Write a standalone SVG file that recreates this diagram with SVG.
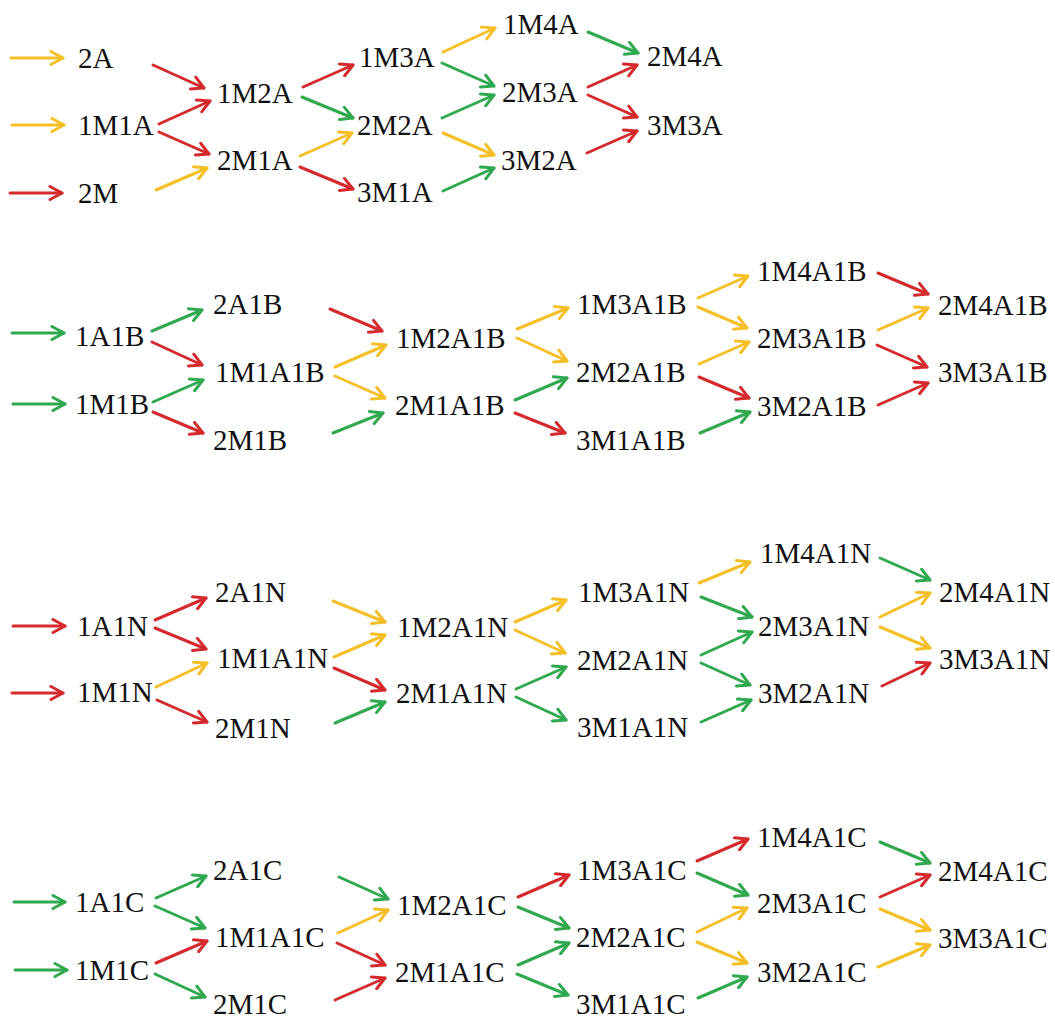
<svg xmlns="http://www.w3.org/2000/svg" width="1055" height="1019" viewBox="0 0 1055 1019">
<style>
.r{stroke:#d42a2e}.y{stroke:#f4bf27}.g{stroke:#2fa84f}
line{stroke-width:3;stroke-linecap:round;fill:none}
line.r{marker-end:url(#mr)}line.y{marker-end:url(#my)}line.g{marker-end:url(#mg)}
</style>
<defs>
<marker id="mr" markerUnits="userSpaceOnUse" markerWidth="16" markerHeight="16" viewBox="0 0 16 16" refX="14" refY="8" orient="auto"><path d="M2,1.5 L14,8 L2,14.5" fill="none" stroke="#d42a2e" stroke-width="3" stroke-linecap="round" stroke-linejoin="round"/></marker>
<marker id="my" markerUnits="userSpaceOnUse" markerWidth="16" markerHeight="16" viewBox="0 0 16 16" refX="14" refY="8" orient="auto"><path d="M2,1.5 L14,8 L2,14.5" fill="none" stroke="#f4bf27" stroke-width="3" stroke-linecap="round" stroke-linejoin="round"/></marker>
<marker id="mg" markerUnits="userSpaceOnUse" markerWidth="16" markerHeight="16" viewBox="0 0 16 16" refX="14" refY="8" orient="auto"><path d="M2,1.5 L14,8 L2,14.5" fill="none" stroke="#2fa84f" stroke-width="3" stroke-linecap="round" stroke-linejoin="round"/></marker>
</defs>
<rect width="1055" height="1019" fill="#fff"/>
<g id="connectors">
<line class="y" x1="11" y1="58" x2="63" y2="58"/>
<line class="y" x1="12" y1="125" x2="64" y2="125"/>
<line class="r" x1="10" y1="193" x2="62" y2="193"/>
<line class="r" x1="153" y1="65" x2="204" y2="88"/>
<line class="r" x1="159" y1="124" x2="210" y2="101"/>
<line class="r" x1="159" y1="132" x2="209" y2="154"/>
<line class="y" x1="156" y1="190" x2="207" y2="168"/>
<line class="r" x1="303" y1="87" x2="353" y2="65"/>
<line class="g" x1="302" y1="97" x2="353" y2="118"/>
<line class="y" x1="300" y1="156" x2="352" y2="133"/>
<line class="r" x1="300" y1="167" x2="353" y2="189"/>
<line class="y" x1="443" y1="52" x2="495" y2="28"/>
<line class="g" x1="442" y1="63" x2="494" y2="86"/>
<line class="g" x1="442" y1="118" x2="494" y2="95"/>
<line class="y" x1="443" y1="133" x2="494" y2="155"/>
<line class="g" x1="443" y1="191" x2="494" y2="168"/>
<line class="g" x1="588" y1="32" x2="638" y2="53"/>
<line class="r" x1="588" y1="87" x2="637" y2="65"/>
<line class="r" x1="588" y1="95" x2="637" y2="117"/>
<line class="r" x1="587" y1="153" x2="637" y2="131"/>
<line class="g" x1="12" y1="333" x2="64" y2="333"/>
<line class="g" x1="13" y1="404" x2="65" y2="404"/>
<line class="g" x1="152" y1="331" x2="202" y2="310"/>
<line class="r" x1="152" y1="342" x2="202" y2="365"/>
<line class="g" x1="153" y1="402" x2="203" y2="380"/>
<line class="r" x1="153" y1="412" x2="203" y2="433"/>
<line class="r" x1="330" y1="309" x2="382" y2="331"/>
<line class="y" x1="335" y1="367" x2="386" y2="345"/>
<line class="y" x1="335" y1="376" x2="385" y2="398"/>
<line class="g" x1="333" y1="433" x2="383" y2="413"/>
<line class="y" x1="517" y1="329" x2="568" y2="308"/>
<line class="y" x1="517" y1="338" x2="567" y2="361"/>
<line class="g" x1="515" y1="400" x2="567" y2="378"/>
<line class="r" x1="515" y1="413" x2="565" y2="433"/>
<line class="y" x1="698" y1="298" x2="748" y2="276"/>
<line class="y" x1="698" y1="307" x2="747" y2="328"/>
<line class="y" x1="699" y1="364" x2="749" y2="342"/>
<line class="r" x1="699" y1="377" x2="749" y2="398"/>
<line class="g" x1="700" y1="433" x2="750" y2="412"/>
<line class="r" x1="878" y1="273" x2="928" y2="294"/>
<line class="y" x1="878" y1="330" x2="928" y2="308"/>
<line class="r" x1="877" y1="345" x2="927" y2="367"/>
<line class="r" x1="878" y1="405" x2="928" y2="383"/>
<line class="r" x1="13" y1="626" x2="65" y2="626"/>
<line class="r" x1="12" y1="693" x2="63" y2="693"/>
<line class="r" x1="155" y1="620" x2="206" y2="598"/>
<line class="r" x1="155" y1="628" x2="206" y2="649"/>
<line class="y" x1="156" y1="687" x2="207" y2="663"/>
<line class="r" x1="157" y1="700" x2="207" y2="722"/>
<line class="y" x1="333" y1="601" x2="385" y2="622"/>
<line class="y" x1="334" y1="657" x2="385" y2="635"/>
<line class="r" x1="334" y1="668" x2="385" y2="690"/>
<line class="g" x1="335" y1="723" x2="385" y2="702"/>
<line class="y" x1="515" y1="622" x2="566" y2="600"/>
<line class="y" x1="515" y1="630" x2="565" y2="653"/>
<line class="g" x1="516" y1="689" x2="566" y2="667"/>
<line class="g" x1="516" y1="697" x2="566" y2="720"/>
<line class="y" x1="699" y1="583" x2="750" y2="562"/>
<line class="g" x1="701" y1="597" x2="752" y2="617"/>
<line class="g" x1="701" y1="655" x2="752" y2="632"/>
<line class="g" x1="701" y1="663" x2="750" y2="685"/>
<line class="g" x1="701" y1="722" x2="751" y2="700"/>
<line class="g" x1="880" y1="558" x2="930" y2="580"/>
<line class="y" x1="880" y1="617" x2="930" y2="593"/>
<line class="y" x1="880" y1="627" x2="930" y2="648"/>
<line class="r" x1="882" y1="686" x2="930" y2="663"/>
<line class="g" x1="14" y1="902" x2="65" y2="902"/>
<line class="g" x1="15" y1="970" x2="67" y2="970"/>
<line class="g" x1="156" y1="898" x2="206" y2="876"/>
<line class="g" x1="155" y1="906" x2="205" y2="928"/>
<line class="r" x1="156" y1="963" x2="207" y2="941"/>
<line class="g" x1="155" y1="974" x2="205" y2="997"/>
<line class="g" x1="339" y1="877" x2="388" y2="899"/>
<line class="y" x1="338" y1="933" x2="388" y2="910"/>
<line class="r" x1="337" y1="943" x2="385" y2="965"/>
<line class="r" x1="335" y1="1000" x2="385" y2="978"/>
<line class="r" x1="518" y1="897" x2="569" y2="875"/>
<line class="g" x1="518" y1="907" x2="569" y2="928"/>
<line class="g" x1="518" y1="965" x2="569" y2="943"/>
<line class="g" x1="517" y1="974" x2="568" y2="995"/>
<line class="r" x1="697" y1="861" x2="748" y2="839"/>
<line class="g" x1="697" y1="873" x2="748" y2="895"/>
<line class="y" x1="697" y1="932" x2="747" y2="908"/>
<line class="y" x1="697" y1="942" x2="747" y2="963"/>
<line class="g" x1="698" y1="998" x2="747" y2="977"/>
<line class="g" x1="880" y1="842" x2="930" y2="863"/>
<line class="r" x1="880" y1="897" x2="930" y2="875"/>
<line class="y" x1="880" y1="909" x2="930" y2="930"/>
<line class="y" x1="878" y1="967" x2="930" y2="945"/>
</g>
<g id="nodes" fill="#111">
<g id="n-2A"><text x="78" y="68" font-family="Liberation Serif" font-size="29">2A</text></g>
<g id="n-1M1A"><text x="78" y="135" font-family="Liberation Serif" font-size="29">1M1A</text></g>
<g id="n-2M"><text x="78" y="203" font-family="Liberation Serif" font-size="29">2M</text></g>
<g id="n-1M2A"><text x="217" y="103" font-family="Liberation Serif" font-size="29">1M2A</text></g>
<g id="n-2M1A"><text x="217" y="170" font-family="Liberation Serif" font-size="29">2M1A</text></g>
<g id="n-1M3A"><text x="359" y="67" font-family="Liberation Serif" font-size="29">1M3A</text></g>
<g id="n-2M2A"><text x="357" y="135" font-family="Liberation Serif" font-size="29">2M2A</text></g>
<g id="n-3M1A"><text x="357" y="202" font-family="Liberation Serif" font-size="29">3M1A</text></g>
<g id="n-1M4A"><text x="503" y="34" font-family="Liberation Serif" font-size="29">1M4A</text></g>
<g id="n-2M3A"><text x="502" y="102" font-family="Liberation Serif" font-size="29">2M3A</text></g>
<g id="n-3M2A"><text x="501" y="170" font-family="Liberation Serif" font-size="29">3M2A</text></g>
<g id="n-2M4A"><text x="647" y="66" font-family="Liberation Serif" font-size="29">2M4A</text></g>
<g id="n-3M3A"><text x="647" y="135" font-family="Liberation Serif" font-size="29">3M3A</text></g>
<g id="n-1A1B"><text x="75" y="346" font-family="Liberation Serif" font-size="29">1A1B</text></g>
<g id="n-1M1B"><text x="75" y="414" font-family="Liberation Serif" font-size="29">1M1B</text></g>
<g id="n-2A1B"><text x="213" y="314" font-family="Liberation Serif" font-size="29">2A1B</text></g>
<g id="n-1M1A1B"><text x="215" y="382" font-family="Liberation Serif" font-size="29">1M1A1B</text></g>
<g id="n-2M1B"><text x="213" y="450" font-family="Liberation Serif" font-size="29">2M1B</text></g>
<g id="n-1M2A1B"><text x="396" y="348" font-family="Liberation Serif" font-size="29">1M2A1B</text></g>
<g id="n-2M1A1B"><text x="395" y="415" font-family="Liberation Serif" font-size="29">2M1A1B</text></g>
<g id="n-1M3A1B"><text x="577" y="314" font-family="Liberation Serif" font-size="29">1M3A1B</text></g>
<g id="n-2M2A1B"><text x="576" y="382" font-family="Liberation Serif" font-size="29">2M2A1B</text></g>
<g id="n-3M1A1B"><text x="576" y="450" font-family="Liberation Serif" font-size="29">3M1A1B</text></g>
<g id="n-1M4A1B"><text x="757" y="281" font-family="Liberation Serif" font-size="29">1M4A1B</text></g>
<g id="n-2M3A1B"><text x="757" y="348" font-family="Liberation Serif" font-size="29">2M3A1B</text></g>
<g id="n-3M2A1B"><text x="757" y="416" font-family="Liberation Serif" font-size="29">3M2A1B</text></g>
<g id="n-2M4A1B"><text x="938" y="315" font-family="Liberation Serif" font-size="29">2M4A1B</text></g>
<g id="n-3M3A1B"><text x="938" y="382" font-family="Liberation Serif" font-size="29">3M3A1B</text></g>
<g id="n-1A1N"><text x="77" y="636" font-family="Liberation Serif" font-size="29">1A1N</text></g>
<g id="n-1M1N"><text x="77" y="702" font-family="Liberation Serif" font-size="29">1M1N</text></g>
<g id="n-2A1N"><text x="215" y="602" font-family="Liberation Serif" font-size="29">2A1N</text></g>
<g id="n-1M1A1N"><text x="217" y="668" font-family="Liberation Serif" font-size="29">1M1A1N</text></g>
<g id="n-2M1N"><text x="215" y="738" font-family="Liberation Serif" font-size="29">2M1N</text></g>
<g id="n-1M2A1N"><text x="397" y="637" font-family="Liberation Serif" font-size="29">1M2A1N</text></g>
<g id="n-2M1A1N"><text x="396" y="703" font-family="Liberation Serif" font-size="29">2M1A1N</text></g>
<g id="n-1M3A1N"><text x="578" y="602" font-family="Liberation Serif" font-size="29">1M3A1N</text></g>
<g id="n-2M2A1N"><text x="577" y="670" font-family="Liberation Serif" font-size="29">2M2A1N</text></g>
<g id="n-3M1A1N"><text x="577" y="737" font-family="Liberation Serif" font-size="29">3M1A1N</text></g>
<g id="n-1M4A1N"><text x="760" y="563" font-family="Liberation Serif" font-size="29">1M4A1N</text></g>
<g id="n-2M3A1N"><text x="758" y="636" font-family="Liberation Serif" font-size="29">2M3A1N</text></g>
<g id="n-3M2A1N"><text x="758" y="703" font-family="Liberation Serif" font-size="29">3M2A1N</text></g>
<g id="n-2M4A1N"><text x="939" y="602" font-family="Liberation Serif" font-size="29">2M4A1N</text></g>
<g id="n-3M3A1N"><text x="939" y="669" font-family="Liberation Serif" font-size="29">3M3A1N</text></g>
<g id="n-1A1C"><text x="75" y="912" font-family="Liberation Serif" font-size="29">1A1C</text></g>
<g id="n-1M1C"><text x="75" y="980" font-family="Liberation Serif" font-size="29">1M1C</text></g>
<g id="n-2A1C"><text x="213" y="880" font-family="Liberation Serif" font-size="29">2A1C</text></g>
<g id="n-1M1A1C"><text x="215" y="947" font-family="Liberation Serif" font-size="29">1M1A1C</text></g>
<g id="n-2M1C"><text x="213" y="1014" font-family="Liberation Serif" font-size="29">2M1C</text></g>
<g id="n-1M2A1C"><text x="397" y="915" font-family="Liberation Serif" font-size="29">1M2A1C</text></g>
<g id="n-2M1A1C"><text x="395" y="982" font-family="Liberation Serif" font-size="29">2M1A1C</text></g>
<g id="n-1M3A1C"><text x="577" y="880" font-family="Liberation Serif" font-size="29">1M3A1C</text></g>
<g id="n-2M2A1C"><text x="576" y="947" font-family="Liberation Serif" font-size="29">2M2A1C</text></g>
<g id="n-3M1A1C"><text x="576" y="1014" font-family="Liberation Serif" font-size="29">3M1A1C</text></g>
<g id="n-1M4A1C"><text x="757" y="847" font-family="Liberation Serif" font-size="29">1M4A1C</text></g>
<g id="n-2M3A1C"><text x="757" y="913" font-family="Liberation Serif" font-size="29">2M3A1C</text></g>
<g id="n-3M2A1C"><text x="757" y="982" font-family="Liberation Serif" font-size="29">3M2A1C</text></g>
<g id="n-2M4A1C"><text x="938" y="881" font-family="Liberation Serif" font-size="29">2M4A1C</text></g>
<g id="n-3M3A1C"><text x="938" y="948" font-family="Liberation Serif" font-size="29">3M3A1C</text></g>
</g>
</svg>
